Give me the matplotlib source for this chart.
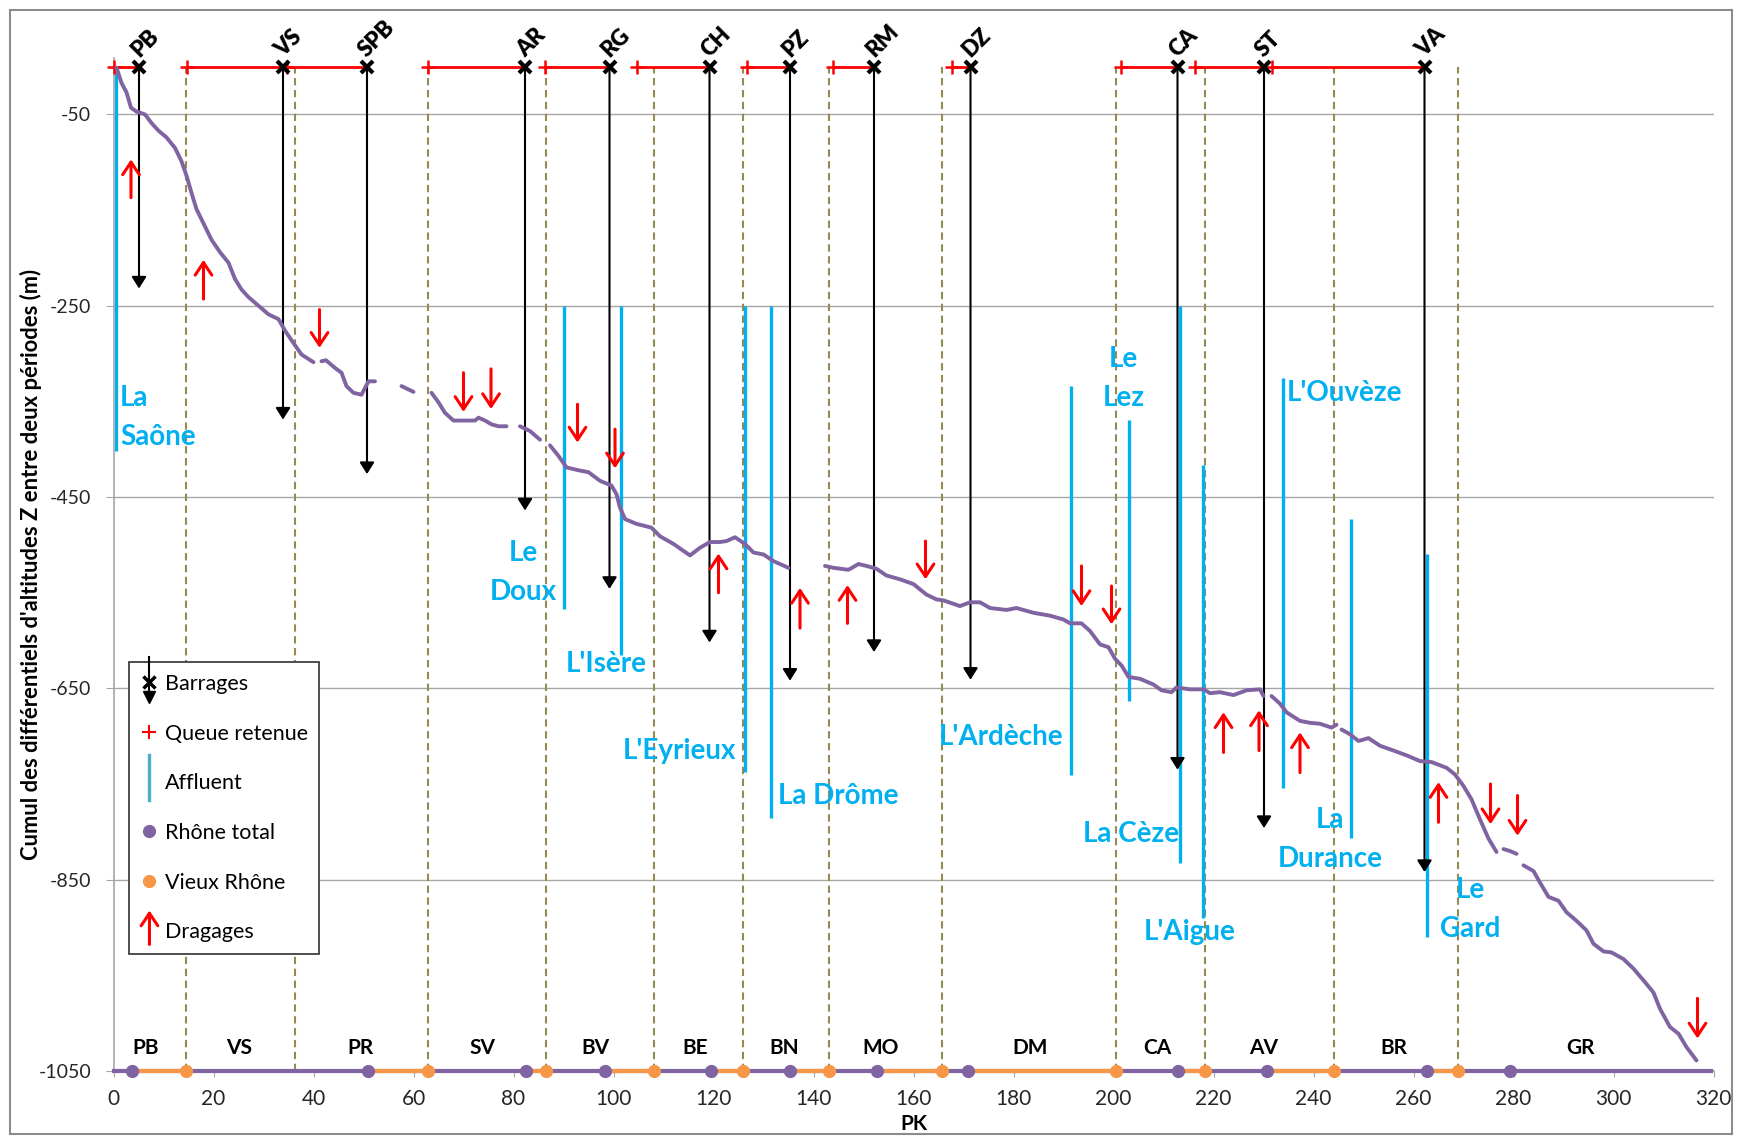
import numpy as np
import matplotlib
matplotlib.use('Agg')
import matplotlib.pyplot as plt
from matplotlib.lines import Line2D
from matplotlib.patches import Rectangle, FancyArrowPatch
from matplotlib.legend_handler import HandlerBase

plt.rcParams['font.family'] = ['Lato', 'DejaVu Sans']
plt.rcParams['axes.unicode_minus'] = False

#--------------------------------------------
# data
# cumulative profile (PK km, Z m), None = gap in the series
profile_pk = [0.6, 1.6, 2.6, 3.5, 4.6, 6.3, 7.6, 9.0, 10.6, 12.3, 13.6, 14.6, 15.6, 16.6, 18.3,
              19.6, 21.3, 23.0, 24.3, 25.6, 27.0, 29.0, 31.0, 33.0, 34.3, 36.0, 37.6, 40.0, None,
              41.6, 42.5, 44.3, 45.6, 46.6, 48.0, 49.6, 51.0, 52.3, None,
              57.6, 60.0, None,
              63.6, 65.0, 66.3, 68.0, 72.3, 73.0, 74.3, 75.6, 77.0, 78.6, None,
              81.3, 83.3, 85.3, None,
              87.3, 89.0, 90.6, 93.0, 95.0, 97.3, 99.6, 100.6, 101.3, 102.3, 104.6, 107.6, 109.3,
              112.0, 115.3, 117.3, 119.3, 121.3, 122.6, 124.3, 126.3, 128.0, 130.0, 132.0, 135.0, None,
              142.3, 144.0, 147.0, 149.0, 150.6, 152.6, 154.6, 157.3, 160.0, 162.6, 164.6, 166.0,
              169.3, 171.3, 173.3, 175.3, 178.6, 180.6, 184.0, 187.3, 190.0, 191.3, 193.6, 195.3,
              197.3, 199.0, 200.3, 201.6, 203.0, 205.3, 208.0, 209.6, 211.6, 212.6, 215.3, 218.0,
              219.3, 221.3, 224.0, 226.6, 229.3, 230.0, None,
              231.6, 233.3, 234.6, 237.3, 239.3, 241.3, 243.6, 244.6, None,
              245.6, 247.3, 249.0, 251.0, 253.3, 256.0, 258.6, 261.3, 263.6, 266.6, 268.3, 270.0,
              271.6, 273.3, 275.0, 276.6, None,
              278.0, 279.3, 280.6, None,
              282.0, 284.0, 285.3, 287.0, 289.0, 290.6, 292.6, 294.6, 296.0, 298.0, 299.6, 302.0,
              304.0, 306.6, 308.0, 309.3, 311.3, 313.0, 314.6, 316.6]
profile_z = [-1, -17, -27, -43, -47, -50, -59, -67, -74, -85, -99, -114, -132, -149, -167,
             -181, -194, -205, -222, -233, -241, -250, -259, -264, -276, -289, -301, -309, None,
             -308, -307, -315, -320, -334, -341, -343, -329, -329, None,
             -334, -340, None,
             -341, -351, -362, -370, -370, -367, -370, -374, -376, -376, None,
             -376, -381, -390, None,
             -396, -407, -419, -422, -424, -433, -438, -447, -461, -473, -478, -482, -491,
             -499, -511, -503, -497, -497, -496, -492, -499, -508, -510, -517, -524, None,
             -522, -524, -526, -520, -522, -525, -532, -536, -541, -552, -557, -558,
             -564, -560, -560, -566, -568, -566, -571, -574, -578, -582, -582, -590,
             -604, -607, -619, -626, -638, -640, -646, -652, -654, -649, -651, -651,
             -655, -654, -657, -652, -651, -658, None,
             -658, -666, -675, -684, -686, -687, -691, -688, None,
             -693, -698, -705, -702, -710, -715, -720, -726, -727, -733, -740, -752,
             -766, -787, -807, -821, None,
             -818, -820, -823, None,
             -835, -841, -853, -868, -872, -884, -893, -903, -917, -925, -926, -933,
             -943, -959, -968, -985, -1004, -1011, -1025, -1039]

# dams (barrages) and reservoir tails (queue retenue)
dam_names = ['PB', 'VS', 'SPB', 'AR', 'RG', 'CH', 'PZ', 'RM', 'DZ', 'CA', 'ST', 'VA']
dam_pk = [5.1, 33.9, 50.7, 82.3, 99.2, 119.2, 135.3, 152.1, 171.4, 212.8, 230.1, 262.2]
dam_depth = [-232, -369, -426, -464, -546, -602, -642, -612, -641, -735, -796, -842]
queue_pk = [0.1, 14.6, 34.7, 62.8, 86.3, 104.6, 126.6, 143.9, 167.7, 201.4, 216.2, 231.7]

# tributaries (affluents)
aff_names = ["La\nSaône", "Le\nDoux", "L'Isère", "L'Eyrieux", "La Drôme", "L'Ardèche",
             "Le\nLez", "La Cèze", "L'Aigue", "L'Ouvèze", "La\nDurance", "Le\nGard"]
aff_pk = [0.5, 90.0, 101.4, 126.2, 131.4, 191.4, 203.0, 213.2, 217.8, 233.8, 247.5, 262.6]
aff_top = [0, -250, -250, -250, -250, -334, -369, -250, -417, -326, -473, -510]
aff_bottom = [-402, -567, -615, -737, -785, -741, -663, -833, -890, -754, -806, -910]
aff_label_pk = [1.3, 81.9, 98.6, 113.2, 145.0, 177.5, 202.0, 203.5, 215.3, 246.1, 243.3, 271.3]
aff_label_z = [-367, -529, -624, -715, -762, -701, -326, -802, -905, -341, -808, -881]

# dredging (dragages) arrows
drag_pk = [3.5, 18.0, 41.2, 70.0, 75.5, 92.8, 100.3, 121.0, 137.3, 146.8,
           162.4, 193.6, 199.6, 222.0, 229.1, 237.3, 265.0, 275.4, 280.8, 316.8]
drag_from = [-137, -243, -254, -320, -316, -353, -379, -550, -587, -582,
             -496, -522, -543, -717, -715, -738, -790, -750, -762, -974]
drag_to = [-97, -202, -294, -361, -358, -393, -420, -509, -545, -542,
           -536, -564, -583, -675, -673, -696, -748, -792, -804, -1016]

# sectors
sector_names = ['PB', 'VS', 'PR', 'SV', 'BV', 'BE', 'BN', 'MO', 'DM', 'CA', 'AV', 'BR', 'GR']
sector_pk = [6.5, 25.1, 49.4, 73.8, 96.3, 116.4, 134.2, 153.4, 183.4, 208.7, 230.0, 256.0, 293.3]
boundaries = [14.5, 36.2, 62.8, 86.4, 108.1, 125.9, 143.1, 165.6, 200.5, 218.2, 244.0, 268.8]

# bottom line: Rhône total / Vieux Rhône
total_range = [0, 319.5]
total_dots = [3.7, 50.8, 82.5, 98.2, 119.5, 135.3, 152.6, 170.8, 212.8, 230.6, 262.7, 279.3]
vr_start = [3.7, 50.8, 82.5, 98.2, 119.5, 135.3, 152.6, 170.8, 212.8, 230.6, 262.7]
vr_end = [14.5, 62.8, 86.4, 108.1, 125.9, 143.1, 165.6, 200.5, 218.2, 244.0, 268.8]

PURPLE = '#8064A2'
ORANGE = '#F79646'
BLUE = '#00B0F0'
OLIVE = '#948A54'
GRID = '#A6A6A6'
BASE = -1050


class BarrageHandler(HandlerBase):
    def create_artists(self, legend, orig_handle, xdescent, ydescent, width, height, fontsize, trans):
        cx = width / 2 - xdescent
        cy = height / 2 - ydescent
        line = Line2D([cx, cx], [cy + 1.7 * height, cy - 0.9 * height], color='black', lw=1.5, transform=trans)
        tip = Line2D([cx], [cy - 1.0 * height], marker='v', ms=8, color='black', transform=trans)
        cross = Line2D([cx], [cy], marker='x', ms=8, mew=2.5, color='black', transform=trans)
        return [line, tip, cross]


class AffluentHandler(HandlerBase):
    def create_artists(self, legend, orig_handle, xdescent, ydescent, width, height, fontsize, trans):
        cx = width / 2 - xdescent
        cy = height / 2 - ydescent
        line = Line2D([cx, cx], [cy + 1.8 * height, cy - 1.2 * height], color='#4BACC6', lw=2.4, transform=trans)
        return [line]


class DragHandler(HandlerBase):
    def create_artists(self, legend, orig_handle, xdescent, ydescent, width, height, fontsize, trans):
        cx = width / 2 - xdescent
        cy = height / 2 - ydescent
        arr = FancyArrowPatch((cx, cy - 0.9 * height), (cx, cy + 1.35 * height),
                              arrowstyle='->,head_length=0.45,head_width=0.3', mutation_scale=20,
                              color='red', lw=2.2, shrinkA=0, shrinkB=0, transform=trans)
        return [arr]


#--------------------------------------------
# main code
if __name__ == "__main__":
    fig = plt.figure(figsize=(17.42, 11.39), dpi=100)
    ax = fig.add_axes([113.5 / 1742, 1 - 1071 / 1139, 1600 / 1742, 1013 / 1139])
    ax.set_xlim(0, 320)
    ax.set_ylim(BASE, 9)
    ax.set_xticks(np.arange(0, 321, 20))
    ax.set_yticks(np.arange(-1050, 0, 200))
    ax.grid(axis='y', color=GRID, lw=1)
    ax.set_axisbelow(True)
    for s in ['top', 'right']:
        ax.spines[s].set_visible(False)
    for s in ['left', 'bottom']:
        ax.spines[s].set_color(GRID)
        ax.spines[s].set_linewidth(1.2)
    ax.tick_params(axis='x', length=4, color=GRID, labelsize=15, pad=9, labelcolor='#262626')
    ax.tick_params(axis='y', length=6, color=GRID, labelsize=14, pad=10, labelcolor='#262626')

    # sector boundaries
    ax.vlines(boundaries, BASE, 0, colors=OLIVE, linestyles=(0, (3.5, 2.2)), lw=1.5, zorder=1)

    # tributaries
    ax.vlines(aff_pk, aff_bottom, aff_top, colors=BLUE, lw=2.4, zorder=2)
    for i, name in enumerate(aff_names):
        ha = 'left' if i == 0 else 'center'
        ax.text(aff_label_pk[i], aff_label_z[i], name, ha=ha, va='center', ma=ha,
                fontsize=20, fontweight='bold', color=BLUE, linespacing=1.6, zorder=5)

    # dams
    for pk, depth in zip(dam_pk, dam_depth):
        ax.annotate('', xy=(pk, depth), xytext=(pk, 0),
                    arrowprops=dict(arrowstyle='-|>,head_length=0.35,head_width=0.22', color='black',
                                    lw=1.5, shrinkA=0, shrinkB=0, mutation_scale=20), zorder=3)
    for q, pk in zip(queue_pk, dam_pk):
        ax.plot([q, pk], [0, 0], color='red', lw=2, zorder=4, clip_on=False)
    ax.plot(queue_pk, np.zeros(len(queue_pk)), '+', color='red', ms=10, mew=1.8, zorder=4, clip_on=False)
    ax.plot(dam_pk, np.zeros(len(dam_pk)), 'x', color='black', ms=9, mew=3, zorder=6, clip_on=False)
    for name, pk in zip(dam_names, dam_pk):
        ax.annotate(name, (pk, 0), xytext=(0, 6), textcoords='offset points', rotation=45,
                    rotation_mode='anchor', ha='left', va='baseline', fontsize=16, fontweight='heavy')

    # profile
    ax.plot(np.array(profile_pk, dtype=float), np.array(profile_z, dtype=float),
            color=PURPLE, lw=2.8, solid_capstyle='round', zorder=4)

    # dredging
    for pk, z0, z1 in zip(drag_pk, drag_from, drag_to):
        ax.annotate('', xy=(pk, z1), xytext=(pk, z0),
                    arrowprops=dict(arrowstyle='->,head_length=0.45,head_width=0.3', color='red',
                                    lw=2.2, shrinkA=0, shrinkB=0, mutation_scale=20), zorder=5)

    # bottom line with sectors
    ax.plot(total_range, [BASE, BASE], color=PURPLE, lw=3, zorder=6, clip_on=False)
    for s, e in zip(vr_start, vr_end):
        ax.plot([s, e], [BASE, BASE], color=ORANGE, lw=3, zorder=6, clip_on=False)
    ax.plot(total_dots, [BASE] * len(total_dots), 'o', color=PURPLE, ms=8.5, zorder=7, clip_on=False)
    ax.plot(vr_end, [BASE] * len(vr_end), 'o', color=ORANGE, ms=8.5, zorder=7, clip_on=False)
    for name, pk in zip(sector_names, sector_pk):
        ax.text(pk, -1026, name, ha='center', va='center', fontsize=15, fontweight='bold')

    ax.set_ylabel("Cumul des différentiels d'altitudes Z entre deux périodes (m)",
                  fontsize=15.8, fontweight='bold', va='center')
    ax.yaxis.set_label_coords(-0.0516, 0.5)
    ax.set_xlabel('PK', fontsize=15, fontweight='bold', va='center')
    ax.xaxis.set_label_coords(0.5, -0.0525)

    # legend
    h_bar = Line2D([], [])
    h_aff = Line2D([], [])
    h_drag = Line2D([], [])
    h_queue = Line2D([], [], marker='+', ls='none', color='red', ms=10, mew=1.5)
    h_total = Line2D([], [], marker='o', ls='none', color=PURPLE, ms=8.5)
    h_vr = Line2D([], [], marker='o', ls='none', color=ORANGE, ms=8.5)
    leg = ax.legend([h_bar, h_queue, h_aff, h_total, h_vr, h_drag],
                    ['Barrages', 'Queue retenue', 'Affluent', 'Rhône total', 'Vieux Rhône', 'Dragages'],
                    handler_map={h_bar: BarrageHandler(), h_aff: AffluentHandler(), h_drag: DragHandler()},
                    loc='upper left', bbox_to_anchor=(129 / 1742, 1 - 662 / 1139),
                    bbox_transform=fig.transFigure, borderaxespad=0, frameon=True, fancybox=False,
                    framealpha=1, edgecolor='#404040', fontsize=15.5, labelspacing=1.38,
                    borderpad=0.55, handlelength=0.8, handletextpad=0.3)
    leg.get_frame().set_linewidth(1.3)
    leg.set_zorder(10)

    fig.add_artist(Rectangle((10 / 1742, 5 / 1139), 1722 / 1742, 1124 / 1139, transform=fig.transFigure,
                             fill=False, edgecolor='#8C8C8C', lw=1.5))

    fig.savefig('out.png', dpi=100)
